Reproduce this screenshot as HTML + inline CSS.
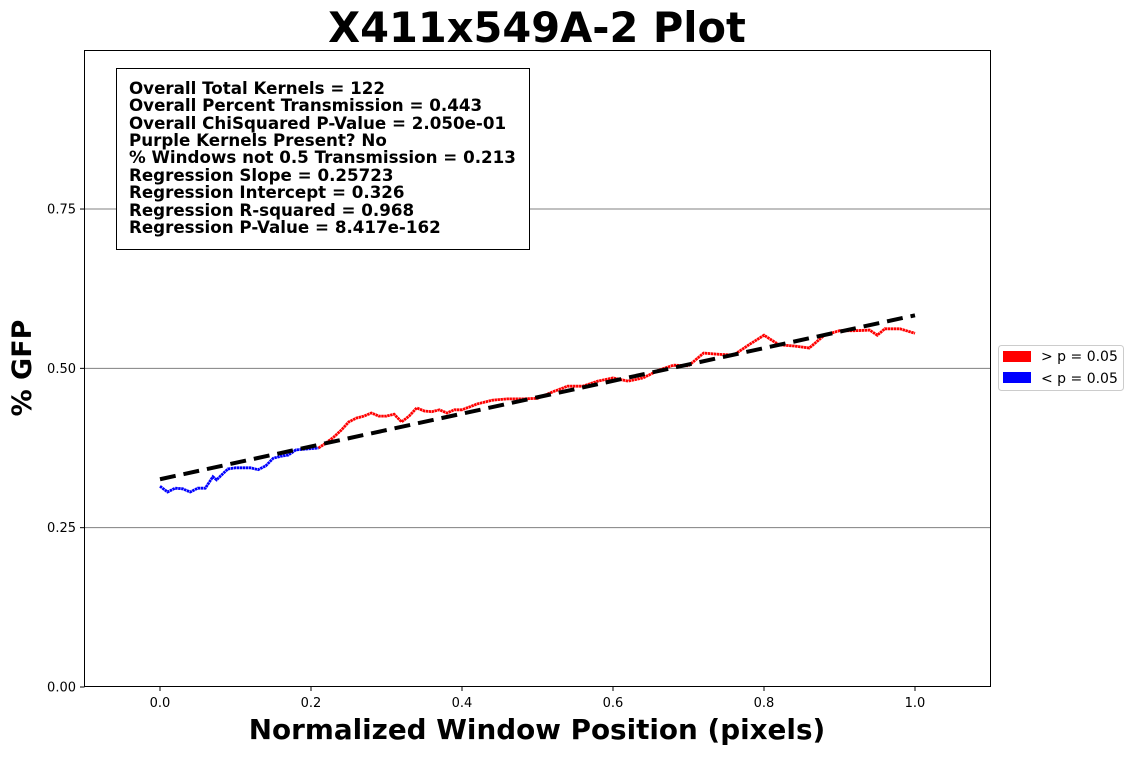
<!DOCTYPE html>
<html><head><meta charset="utf-8"><style>
body{margin:0;background:#fff;width:1133px;height:754px;overflow:hidden;font-family:"DejaVu Sans","Liberation Sans",sans-serif}
</style></head><body>
<svg id="chart" width="1133" height="754" xmlns="http://www.w3.org/2000/svg">
<text x="537" y="42" text-anchor="middle" font-size="41.5" font-weight="bold">X411x549A-2 Plot</text>
<g id="grid"></g>
<g id="ticks"></g>
<g id="series"></g>
<rect x="84.5" y="50.5" width="906" height="636" fill="none" stroke="#000"/>
<text x="537" y="739" text-anchor="middle" font-size="27.8" font-weight="bold">Normalized Window Position (pixels)</text>
<text transform="translate(31,368) rotate(-90)" text-anchor="middle" font-size="27" font-weight="bold">% GFP</text>
<g>
<rect x="116.5" y="68.5" width="413" height="181" fill="#fff" stroke="#000"/>
<g font-size="16.7" font-weight="bold">
<text x="129" y="94">Overall Total Kernels = 122</text>
<text x="129" y="111">Overall Percent Transmission = 0.443</text>
<text x="129" y="129">Overall ChiSquared P-Value = 2.050e-01</text>
<text x="129" y="146">Purple Kernels Present? No</text>
<text x="129" y="163">% Windows not 0.5 Transmission = 0.213</text>
<text x="129" y="181">Regression Slope = 0.25723</text>
<text x="129" y="198">Regression Intercept = 0.326</text>
<text x="129" y="216">Regression R-squared = 0.968</text>
<text x="129" y="233">Regression P-Value = 8.417e-162</text>
</g></g>
<g>
<rect x="998.5" y="345.5" width="125" height="45" rx="3" fill="#fff" stroke="#ccc"/>
<rect x="1003" y="351" width="28" height="11" fill="#f00"/>
<text x="1041" y="361" font-size="14">&gt; p = 0.05</text>
<rect x="1003" y="372" width="28" height="11" fill="#00f"/>
<text x="1041" y="383" font-size="14">&lt; p = 0.05</text>
</g>
</svg>
<script>
const xPos=[0,0.01,0.02,0.03,0.04,0.05,0.06,0.07,0.075,0.08,0.09,0.10,0.12,0.13,0.14,0.15,0.16,0.17,0.18,0.20,0.21,0.22,0.23,0.24,0.25,0.26,0.27,0.28,0.29,0.30,0.31,0.32,0.33,0.34,0.35,0.36,0.37,0.38,0.39,0.40,0.42,0.44,0.46,0.48,0.50,0.52,0.54,0.56,0.58,0.60,0.62,0.64,0.66,0.68,0.70,0.72,0.74,0.76,0.78,0.80,0.82,0.84,0.86,0.88,0.90,0.92,0.94,0.95,0.96,0.98,1.00];
const gfp=[0.315,0.306,0.312,0.311,0.306,0.312,0.312,0.330,0.325,0.331,0.342,0.344,0.344,0.341,0.347,0.359,0.362,0.364,0.372,0.374,0.375,0.383,0.392,0.403,0.416,0.422,0.425,0.430,0.425,0.425,0.428,0.416,0.425,0.438,0.433,0.432,0.435,0.430,0.435,0.435,0.444,0.450,0.452,0.452,0.453,0.463,0.472,0.472,0.480,0.485,0.480,0.485,0.497,0.505,0.504,0.524,0.522,0.521,0.537,0.552,0.537,0.535,0.532,0.552,0.559,0.559,0.560,0.552,0.562,0.562,0.555];
const splitX=0.215;
const slope=0.25723, intercept=0.326;
const xTicks=[0,0.2,0.4,0.6,0.8,1.0];
const xTickLabels=["0.0","0.2","0.4","0.6","0.8","1.0"];
const yTicks=[0,0.25,0.5,0.75];
const yTickLabels=["0.00","0.25","0.50","0.75"];

const NS="http://www.w3.org/2000/svg";
const X=v=>160+(v)*755;
const Y=v=>687-v*637.3;
function mk(tag,attrs,parent){const e=document.createElementNS(NS,tag);for(const k in attrs)e.setAttribute(k,attrs[k]);parent.appendChild(e);return e;}
const grid=document.getElementById('grid'),ticks=document.getElementById('ticks'),series=document.getElementById('series');
yTicks.forEach((t,i)=>{
  if(t>0){const g=mk('line',{x1:84.5,x2:990.5,y1:Y(t),y2:Y(t),stroke:'#808080','stroke-width':1},grid);
  
  }
  mk('line',{x1:80,x2:84.5,y1:Y(t),y2:Y(t),stroke:'#000'},ticks);
  const tx=mk('text',{x:76,y:Y(t)+4.5,'text-anchor':'end','font-size':13},ticks);tx.textContent=yTickLabels[i];
  
  
});
xTicks.forEach((t,i)=>{
  mk('line',{x1:X(t),x2:X(t),y1:686.5,y2:691,stroke:'#000'},ticks);
  const tx=mk('text',{x:X(t),y:707,'text-anchor':'middle','font-size':13},ticks);tx.textContent=xTickLabels[i];
  
  
});
let blue=[],red=[];
xPos.forEach((x,i)=>{const p=X(x).toFixed(1)+','+Y(gfp[i]).toFixed(1);if(x<=splitX)blue.push(p);else red.push(p);});
const bi=xPos.findIndex(x=>x>splitX);
red.unshift(X(xPos[bi-1]).toFixed(1)+','+Y(gfp[bi-1]).toFixed(1));
const bl=mk('polyline',{points:blue.join(' '),fill:'none',stroke:'#00f','stroke-width':2.8,'stroke-dasharray':'2.5 0.5'},series);


const rl=mk('polyline',{points:red.join(' '),fill:'none',stroke:'#f00','stroke-width':2.8,'stroke-dasharray':'2.5 0.5'},series);


const reg=mk('line',{x1:X(0),y1:Y(intercept),x2:X(1),y2:Y(intercept+slope),stroke:'#000','stroke-width':4,'stroke-dasharray':'16 8'},series);


</script>
</body></html>
